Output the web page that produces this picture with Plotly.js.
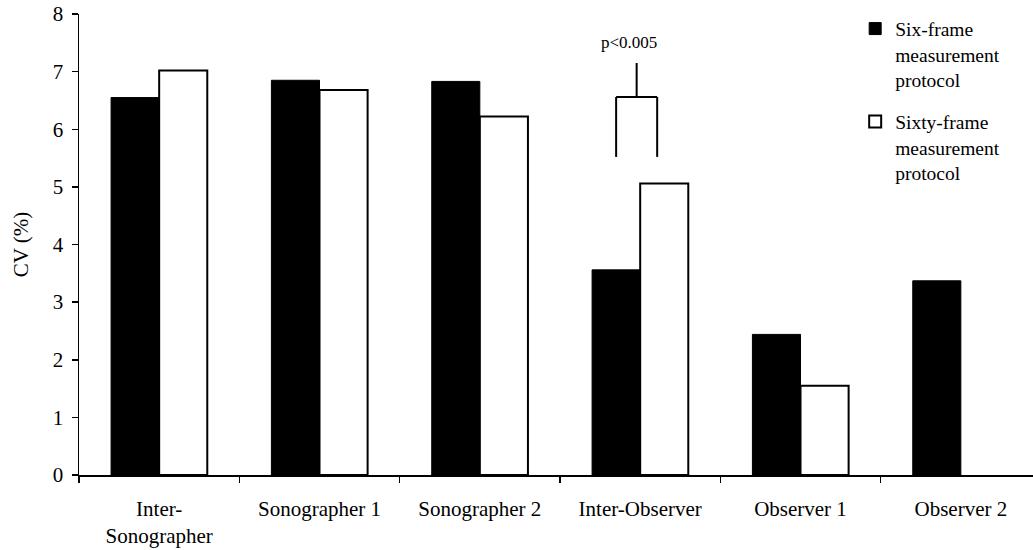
<!DOCTYPE html>
<html>
<head>
<meta charset="utf-8">
<script src="https://cdn.plot.ly/plotly-3.0.1.min.js"></script>
<style>html,body{margin:0;padding:0;background:#fff;}#chart{width:1033px;height:550px;}</style>
</head>
<body>
<div id="chart"></div>
<script>
// ---- data ----
const categories = ["Inter-<br>Sonographer", "Sonographer 1", "Sonographer 2", "Inter-Observer", "Observer 1", "Observer 2"];
const sixFrame = [6.55, 6.85, 6.83, 3.56, 2.44, 3.37];
const sixtyFrame = [7.02, 6.68, 6.22, 5.06, 1.55, null];
const seriesNames = ["Six-frame<br>measurement<br>protocol", "Sixty-frame<br>measurement<br>protocol"];
const yTicks = [0, 1, 2, 3, 4, 5, 6, 7, 8];
// significance bracket (Inter-Observer comparison)
const sigLabel = "p<0.005";
const sigCategory = 3;
const sigLeft = -0.15, sigRight = 0.106;   // offsets from category centre
const sigBottom = 5.52, sigTop = 6.56, sigStemTop = 7.15, sigTextY = 7.5;

const font = "Liberation Serif, Times New Roman, serif";

const traces = [
  {type: "bar", x: categories, y: sixFrame, name: seriesNames[0], legendgroup: "a",
   marker: {color: "#000", line: {color: "#000", width: 1}}, hoverinfo: "none"},
  {type: "bar", x: categories, y: sixtyFrame, name: seriesNames[1], legendgroup: "b",
   marker: {color: "#fff", line: {color: "#000", width: 2}}, hoverinfo: "none"}
];

const cx = sigCategory;
const shapes = [
  {type: "line", xref: "x", yref: "y", x0: cx + sigLeft, x1: cx + sigLeft, y0: sigBottom, y1: sigTop, line: {color: "#000", width: 2}},
  {type: "line", xref: "x", yref: "y", x0: cx + sigRight, x1: cx + sigRight, y0: sigBottom, y1: sigTop, line: {color: "#000", width: 2}},
  {type: "line", xref: "x", yref: "y", x0: cx + sigLeft, x1: cx + sigRight, y0: sigTop, y1: sigTop, line: {color: "#000", width: 2}},
  {type: "line", xref: "x", yref: "y", x0: cx + (sigLeft + sigRight) / 2, x1: cx + (sigLeft + sigRight) / 2, y0: sigTop, y1: sigStemTop, line: {color: "#000", width: 2}}
];

const layout = {
  width: 1033, height: 550,
  margin: {l: 79, r: 0, t: 14, b: 75},
  paper_bgcolor: "#fff", plot_bgcolor: "#fff",
  font: {family: font, size: 21, color: "#000"},
  barmode: "group", bargap: 0.4, bargroupgap: 0,
  showlegend: true,
  legend: {x: 0.8136, xanchor: "left", y: 1.01, yanchor: "top", valign: "top",
           font: {family: font, size: 19.5, color: "#000"}, bgcolor: "rgba(0,0,0,0)",
           traceorder: "grouped", tracegroupgap: 14, itemwidth: 30},
  xaxis: {type: "category", range: [-0.5, 5.45], showline: true, linecolor: "#000", linewidth: 1.5,
          ticks: "outside", tickson: "boundaries", ticklen: 6, tickwidth: 1.5, tickcolor: "#000",
          ticklabelstandoff: 14,
          showgrid: false, zeroline: false, tickfont: {family: font, size: 21}, fixedrange: true},
  yaxis: {range: [0, 8], tickvals: yTicks, showline: true, linecolor: "#000", linewidth: 1.5,
          ticks: "outside", ticklen: 6, tickwidth: 1.5, tickcolor: "#000",
          ticklabelstandoff: 4,
          showgrid: false, zeroline: false, tickfont: {family: font, size: 21},
          title: {text: "CV (%)", font: {family: font, size: 21}, standoff: 18}},
  shapes: shapes,
  annotations: [{xref: "x", yref: "y", x: cx + (sigLeft + sigRight) / 2 - 0.05, y: sigTextY, text: sigLabel,
                 showarrow: false, font: {family: font, size: 17, color: "#000"}}]
};

Plotly.newPlot("chart", traces, layout, {displayModeBar: false, staticPlot: true});
</script>
</body>
</html>
